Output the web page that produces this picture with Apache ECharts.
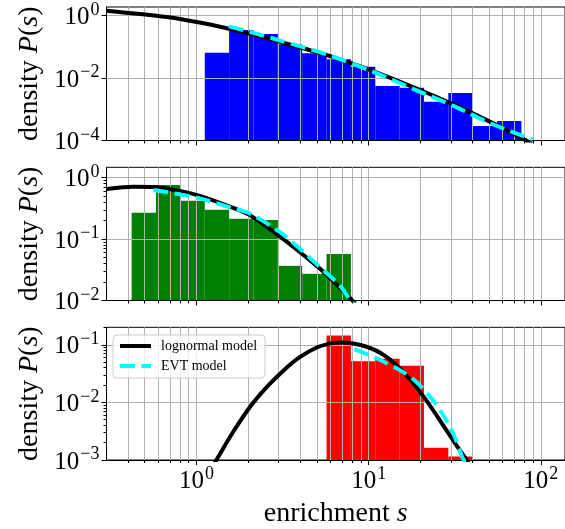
<!DOCTYPE html>
<html>
<head>
<meta charset="utf-8">
<script src="https://cdn.jsdelivr.net/npm/echarts@6/dist/echarts.min.js"></script>
<style>
  html, body { margin: 0; padding: 0; background: #fff; }
  #chart { width: 565px; height: 529px; }
</style>
</head>
<body>
<div id="chart"></div>
<script>
// ---- Histograms: bin edges (enrichment s) and densities P(s) ----
const edgesAll   = [1.117, 1.547, 2.143, 2.969, 4.111, 5.694, 7.889, 10.93, 15.14, 20.96, 29.04, 40.23, 55.72, 77.18];
const densityAll = [0.0651, 0.348, 0.259, 0.121, 0.0624, 0.040, 0.0232, 0.00557, 0.00495, 0.00175, 0.00333, 0.000291, 0.000421];

const edgesLow   = [0.420, 0.582, 0.806, 1.117, 1.547, 2.143, 2.969, 4.111, 5.694, 7.889];
const densityLow = [0.268, 0.760, 0.421, 0.302, 0.215, 0.205, 0.0367, 0.0272, 0.0571];

const edgesHigh   = [5.694, 7.889, 10.93, 15.14, 20.96, 29.04, 40.23];
const densityHigh = [0.1445, 0.0516, 0.0574, 0.0435, 0.00163, 0.00115];

// ---- Model curves (s, P(s)) ----
const lognAllS = [0.30, 0.67, 1.045, 1.52, 2.03, 3.03, 4.53, 5.91, 10.5, 18.4, 31.3, 53.4, 81.3, 95.1];
const lognAllP = [1.45, 0.912, 0.603, 0.389, 0.266, 0.148, 0.0794, 0.0513, 0.0172, 0.00501, 0.00141, 0.000347, 0.000103, 0.0000646];
const evtAllS  = [1.54, 2.03, 3.03, 4.53, 5.91, 10.5, 18.4, 31.3, 53.4, 89.5];
const evtAllP  = [0.457, 0.307, 0.163, 0.0856, 0.0537, 0.0165, 0.00437, 0.00127, 0.00032, 0.000109];

const lognLowS = [0.301, 0.43, 0.561, 0.80, 1.045, 1.63, 2.03, 3.03, 3.96, 5.18, 6.75, 8.05, 8.91];
const lognLowP = [0.653, 0.713, 0.708, 0.610, 0.507, 0.324, 0.248, 0.112, 0.0624, 0.0334, 0.0166, 0.0100, 0.00724];
const evtLowS  = [0.561, 0.80, 1.045, 1.63, 2.03, 3.03, 3.96, 5.18, 6.75, 7.89, 8.35];
const evtLowP  = [0.631, 0.537, 0.461, 0.318, 0.263, 0.132, 0.0708, 0.0355, 0.0179, 0.0099, 0.0081];

const lognHighS = [1.24, 1.305, 1.628, 2.034, 2.541, 3.171, 3.962, 5.03, 6.17, 6.90, 9.63, 12.58, 16.41, 21.43, 27.98, 33.4, 37.2, 38.7];
const lognHighP = [0.000767, 0.001, 0.00303, 0.00817, 0.018, 0.0348, 0.0603, 0.0906, 0.107, 0.1096, 0.0935, 0.063, 0.0305, 0.0113, 0.00346, 0.00157, 0.001, 0.00083];
const evtHighS  = [8.25, 11.0, 15.0, 18.76, 23.4, 28.0, 32.0, 34.9, 35.7, 36.1];
const evtHighP  = [0.0844, 0.059, 0.0371, 0.0234, 0.0113, 0.00513, 0.00233, 0.00113, 0.001, 0.00086];

// ---- Axis ranges and ticks ----
const xRange = [0.3, 138.3];
const yRanges = [[1e-4, 1.905], [0.01, 1.479], [0.001, 0.2014]];
const xMajorTicks = [1, 10, 100];
const yMajorTicks = [[1e-4, 1e-2, 1], [0.01, 0.1, 1], [0.001, 0.01, 0.1]];
const seriesNames = ['lognormal model', 'EVT model'];
const barColors = ['#0000ff', '#008000', '#ff0000'];

const lg = Math.log10;
const SERIF = "'Liberation Serif', 'DejaVu Serif', serif";

// minor log ticks (2..9 x 10^k) inside a range
function minorTicks(lo, hi) {
  const out = [];
  for (let e = Math.floor(lg(lo)); e <= Math.ceil(lg(hi)); e++) {
    for (let k = 2; k <= 9; k++) {
      const v = k * Math.pow(10, e);
      if (v > lo * 1.0001 && v < hi * 0.9999) out.push(lg(v));
    }
  }
  return out;
}

const gridRects = [
  { left: 106.5, top: 7,     right: -1, height: 133.5 },
  { left: 106.5, top: 167.3, right: -1, height: 133.2 },
  { left: 106.5, top: 327.3, right: -1, height: 134 }
];

const powRich = {
  b: { fontFamily: SERIF, fontSize: 25, color: '#000', padding: [4, 0, 0, 0] },
  s: { fontFamily: SERIF, fontSize: 18, color: '#000', verticalAlign: 'top', padding: [0, 0, 0, 1] }
};
function powLabel(v) {
  const e = Math.round(v);
  return '{b|10}{s|' + (e < 0 ? '\u2212' + (-e) : String(e)) + '}';
}

const titleStyle = {
  fontFamily: SERIF, fontSize: 28, color: '#000',
  rich: { n: { fontFamily: SERIF, fontSize: 28, color: '#000' },
          i: { fontFamily: SERIF, fontSize: 28, color: '#000', fontStyle: 'italic' } }
};

const gridLine = { show: true, lineStyle: { color: '#b0b0b0', width: 1 } };
const spine = { show: true, onZero: false, lineStyle: { color: '#000', width: 1 } };
const tickStyle = { color: '#000', width: 1 };

const grids = [], xAxes = [], yAxes = [], series = [];

const panels = [
  { edges: edgesAll,  dens: densityAll,  ln: [lognAllS, lognAllP],   evt: [evtAllS, evtAllP],   minorY: false },
  { edges: edgesLow,  dens: densityLow,  ln: [lognLowS, lognLowP],   evt: [evtLowS, evtLowP],   minorY: true },
  { edges: edgesHigh, dens: densityHigh, ln: [lognHighS, lognHighP], evt: [evtHighS, evtHighP], minorY: true }
];

panels.forEach((p, i) => {
  grids.push(Object.assign({ show: true, borderColor: '#000', borderWidth: 1, backgroundColor: 'transparent' }, gridRects[i]));
  const xMin = lg(xRange[0]), xMax = lg(xRange[1]);
  const yMin = lg(yRanges[i][0]), yMax = lg(yRanges[i][1]);
  const isBottom = i === panels.length - 1;

  // major x axis (ticks, labels, grid lines)
  const xMajorIdx = xAxes.length;
  xAxes.push({
    type: 'value', gridIndex: i, min: xMin, max: xMax, position: 'bottom', z: 2,
    axisLine: spine,
    axisTick: { show: true, length: 5, customValues: xMajorTicks.map(lg), lineStyle: tickStyle },
    axisLabel: { show: isBottom, customValues: xMajorTicks.map(lg), formatter: powLabel, rich: powRich, margin: 5 },
    splitLine: gridLine,
    name: isBottom ? '{n|enrichment }{i|s}' : '',
    nameLocation: 'middle', nameGap: 40,
    nameTextStyle: titleStyle
  });
  // minor x axis (ticks and grid lines at 2..9 x 10^k)
  xAxes.push({
    type: 'value', gridIndex: i, min: xMin, max: xMax, position: 'bottom', z: 2,
    axisLine: { show: false, onZero: false },
    axisTick: { show: true, length: 3, customValues: minorTicks(xRange[0], xRange[1]), lineStyle: tickStyle },
    axisLabel: { show: false },
    splitLine: gridLine
  });

  const yMajorIdx = yAxes.length;
  yAxes.push({
    type: 'value', gridIndex: i, min: yMin, max: yMax, position: 'left', z: 2,
    axisLine: spine,
    axisTick: { show: true, length: 5, customValues: yMajorTicks[i].map(lg), lineStyle: tickStyle },
    axisLabel: { show: true, customValues: yMajorTicks[i].map(lg), formatter: powLabel, rich: powRich, margin: 7 },
    splitLine: gridLine,
    name: '{n|density }{i|P}{n|(}{i|s}{n|)}',
    nameLocation: 'middle', nameGap: 62,
    nameTextStyle: titleStyle
  });
  if (p.minorY) {
    yAxes.push({
      type: 'value', gridIndex: i, min: yMin, max: yMax, position: 'left', z: 2,
      axisLine: { show: false, onZero: false },
      axisTick: { show: true, length: 3, customValues: minorTicks(yRanges[i][0], yRanges[i][1]), lineStyle: tickStyle },
      axisLabel: { show: false },
      splitLine: { show: false }
    });
  }

  // histogram bars on log bins, drawn from the bottom of the axis
  const barData = p.dens.map((d, k) => [lg(p.edges[k]), lg(p.edges[k + 1]), lg(d)]);
  series.push({
    type: 'custom', xAxisIndex: xMajorIdx, yAxisIndex: yMajorIdx, z: 1, silent: true,
    encode: { x: [0, 1], y: 2 },
    data: barData,
    renderItem: (params, api) => {
      const a = api.coord([api.value(0), api.value(2)]);
      const b = api.coord([api.value(1), yMin]);
      return { type: 'rect', shape: { x: a[0], y: a[1], width: b[0] - a[0], height: b[1] - a[1] },
               style: { fill: barColors[i] } };
    }
  });

  series.push({
    type: 'line', name: seriesNames[0], xAxisIndex: xMajorIdx, yAxisIndex: yMajorIdx, z: 3,
    symbol: 'none', smooth: 0.3, clip: true, silent: true,
    lineStyle: { color: '#000', width: 4 }, itemStyle: { color: '#000' },
    data: p.ln[0].map((s, k) => [lg(s), lg(p.ln[1][k])])
  });
  series.push({
    type: 'line', name: seriesNames[1], xAxisIndex: xMajorIdx, yAxisIndex: yMajorIdx, z: 4,
    symbol: 'none', smooth: 0.3, clip: true, silent: true,
    lineStyle: { color: '#00ffff', width: 4, type: [15, 6.5] }, itemStyle: { color: '#00ffff' },
    data: p.evt[0].map((s, k) => [lg(s), lg(p.evt[1][k])])
  });
});

const chart = echarts.init(document.getElementById('chart'), null, { renderer: 'canvas' });
chart.setOption({
  animation: false,
  backgroundColor: '#fff',
  grid: grids,
  xAxis: xAxes,
  yAxis: yAxes,
  legend: {
    data: seriesNames, orient: 'vertical', left: 113, top: 335, z: 10,
    itemWidth: 31, itemHeight: 14, itemGap: 6,
    padding: [4, 8, 5, 5],
    backgroundColor: 'rgba(255,255,255,0.8)', borderColor: '#cccccc', borderWidth: 1, borderRadius: 4,
    lineStyle: { width: 4 },
    itemStyle: { color: 'transparent', borderColor: 'transparent', borderWidth: 0, opacity: 0 },
    textStyle: { fontFamily: SERIF, fontSize: 14, color: '#000', padding: [0, 0, 0, 5] },
    selectedMode: false
  },
  series: series
});
</script>
</body>
</html>
